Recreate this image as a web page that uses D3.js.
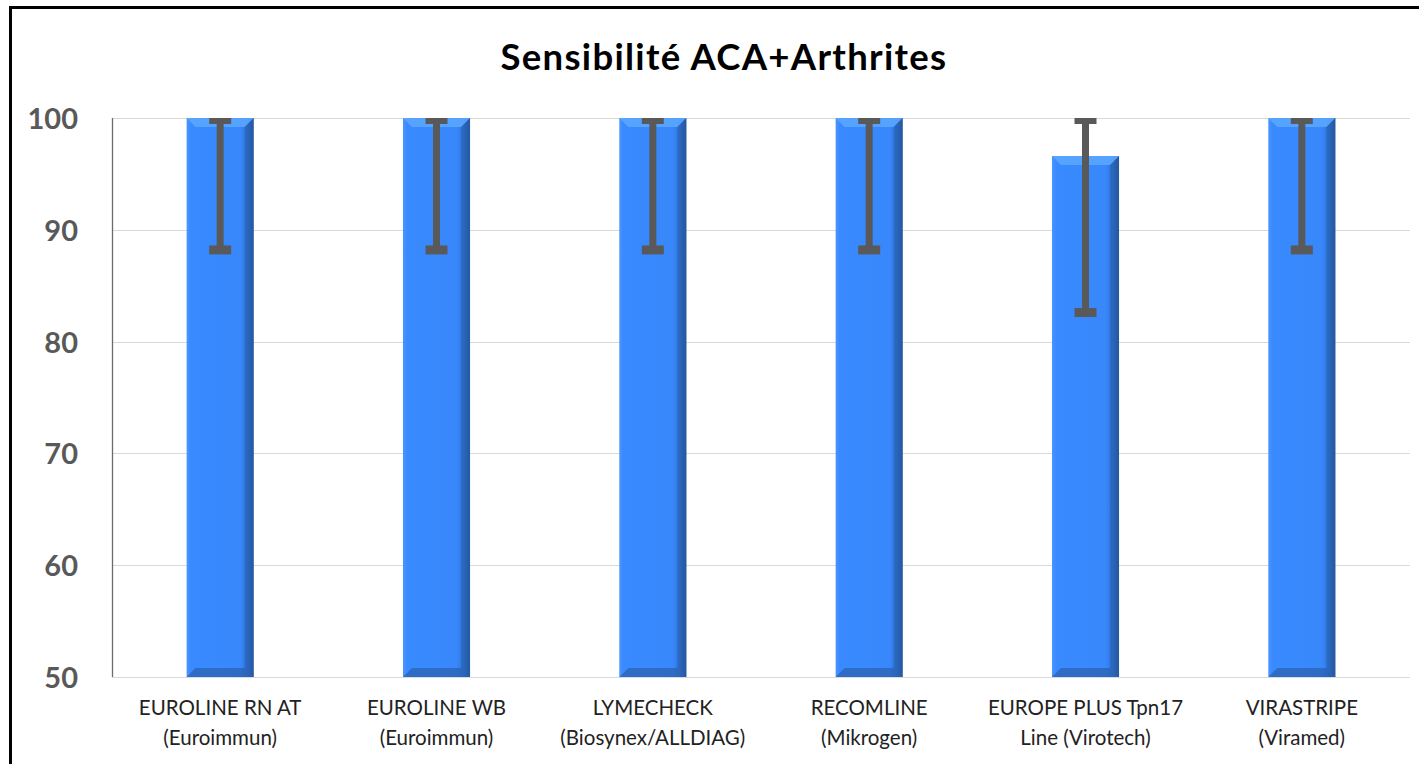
<!DOCTYPE html>
<html><head><meta charset="utf-8">
<script src="https://cdn.jsdelivr.net/npm/d3@7"></script>
<style>body{margin:0;background:#fff}svg{display:block}</style>
</head><body>
<script>
const categories = [
  ["EUROLINE RN AT","(Euroimmun)"],
  ["EUROLINE WB","(Euroimmun)"],
  ["LYMECHECK","(Biosynex/ALLDIAG)"],
  ["RECOMLINE","(Mikrogen)"],
  ["EUROPE PLUS Tpn17","Line (Virotech)"],
  ["VIRASTRIPE","(Viramed)"]
];
const values = [100, 100, 100, 100, 96.6, 100];
const errLow = [88.2, 88.2, 88.2, 88.2, 82.6, 88.2];
const errHigh = [100, 100, 100, 100, 100, 100];
const yTicks = [50, 60, 70, 80, 90, 100];
const title = "Sensibilité ACA+Arthrites";

const W = 1419, H = 764;
const svg = d3.select("body").append("svg").attr("width", W).attr("height", H);

// frame
svg.append("rect").attr("x", 10.5).attr("y", 7.5).attr("width", W + 20).attr("height", H + 20)
  .attr("fill", "#fff").attr("stroke", "#000").attr("stroke-width", 3);

const m = {left: 112, right: 1410, top: 118, bottom: 677};
const x = d3.scaleBand().domain(categories.map((d, i) => i)).range([m.left, m.right]).paddingInner(0.69).paddingOuter(0.345);
const y = d3.scaleLinear().domain([50, 100]).range([m.bottom, m.top]);

// gridlines
svg.append("g").selectAll("line").data(yTicks).join("line")
  .attr("x1", m.left).attr("x2", m.right)
  .attr("y1", d => Math.round(y(d)) + 0.5).attr("y2", d => Math.round(y(d)) + 0.5)
  .attr("stroke", "#d9d9d9").attr("stroke-width", 1.2);

// y axis line
svg.append("line").attr("x1", m.left + 0.5).attr("x2", m.left + 0.5).attr("y1", m.top).attr("y2", m.bottom)
  .attr("stroke", "#6b6b6b").attr("stroke-width", 1.3);

// y tick labels
const yAxis = d3.axisLeft(y).tickValues(yTicks).tickSize(0).tickPadding(34);
const gy = svg.append("g").attr("transform", `translate(${m.left},0)`).call(yAxis);
gy.select(".domain").remove();
gy.selectAll("text").attr("font-family", "Lato, 'Open Sans', sans-serif").attr("font-weight", "bold")
  .attr("font-size", 29).attr("fill", "#595959").attr("dy", "0.36em");

// gradients
const defs = svg.append("defs");
const gH = defs.append("linearGradient").attr("id", "gh").attr("x1", 0).attr("x2", 1).attr("y1", 0).attr("y2", 0);
gH.append("stop").attr("offset", 0).attr("stop-color", "#4a94ff");
gH.append("stop").attr("offset", 0.06).attr("stop-color", "#3a8aff");
gH.append("stop").attr("offset", 0.8).attr("stop-color", "#3888fc");
gH.append("stop").attr("offset", 0.9).attr("stop-color", "#2f74d8");
gH.append("stop").attr("offset", 1).attr("stop-color", "#24579f");

const bars = svg.append("g").selectAll("g").data(values).join("g");
const bw = x.bandwidth();
const bev = 9;
bars.append("rect")
  .attr("x", (d, i) => x(i)).attr("y", d => y(d))
  .attr("width", bw).attr("height", d => y(50) - y(d))
  .attr("fill", "url(#gh)");
// top bevel
bars.append("path").attr("d", (d, i) => {
  const x0 = x(i), x1 = x0 + bw, t = y(d);
  return `M${x0},${t}L${x1},${t}L${x1 - bev},${t + bev}L${x0 + bev},${t + bev}Z`;
}).attr("fill", "#5aa6ff").attr("opacity", 0.9);
// right bevel
bars.append("path").attr("d", (d, i) => {
  const x0 = x(i), x1 = x0 + bw, t = y(d), b = y(50);
  return `M${x1},${t}L${x1},${b}L${x1 - bev},${b - bev}L${x1 - bev},${t + bev}Z`;
}).attr("fill", "#26589f").attr("opacity", 0.45);
// bottom bevel
bars.append("path").attr("d", (d, i) => {
  const x0 = x(i), x1 = x0 + bw, b = y(50);
  return `M${x0},${b}L${x1},${b}L${x1 - bev},${b - bev}L${x0 + bev},${b - bev}Z`;
}).attr("fill", "#2a5fae").attr("opacity", 0.7);

// error bars
const eb = svg.append("g").selectAll("g").data(values).join("g");
const cx = i => x(i) + bw / 2;
eb.append("line").attr("x1", (d, i) => cx(i)).attr("x2", (d, i) => cx(i))
  .attr("y1", (d, i) => y(errHigh[i])).attr("y2", (d, i) => y(errLow[i]))
  .attr("stroke", "#595959").attr("stroke-width", 7);
eb.append("line").attr("x1", (d, i) => cx(i) - 11).attr("x2", (d, i) => cx(i) + 11)
  .attr("y1", (d, i) => y(errHigh[i]) + 3).attr("y2", (d, i) => y(errHigh[i]) + 3)
  .attr("stroke", "#595959").attr("stroke-width", 6);
eb.append("line").attr("x1", (d, i) => cx(i) - 11).attr("x2", (d, i) => cx(i) + 11)
  .attr("y1", (d, i) => y(errLow[i])).attr("y2", (d, i) => y(errLow[i]))
  .attr("stroke", "#595959").attr("stroke-width", 9);

// x labels
const xl = svg.append("g").selectAll("text").data(categories).join("text")
  .attr("x", (d, i) => cx(i)).attr("y", 715).attr("text-anchor", "middle")
  .attr("font-family", "Lato, 'Open Sans', sans-serif").attr("font-size", 20.5).attr("fill", "#222");
xl.append("tspan").attr("x", (d, i) => cx(i)).text(d => d[0]);
xl.append("tspan").attr("x", (d, i) => cx(i)).attr("dy", 30).text(d => d[1]);

// title
svg.append("text").attr("x", 724).attr("y", 70).attr("text-anchor", "middle")
  .attr("font-family", "Lato, 'Open Sans', sans-serif").attr("font-weight", "bold").attr("font-size", 36.5)
  .attr("letter-spacing", 1.3)
  .attr("fill", "#000").text(title);
</script>
</body></html>
